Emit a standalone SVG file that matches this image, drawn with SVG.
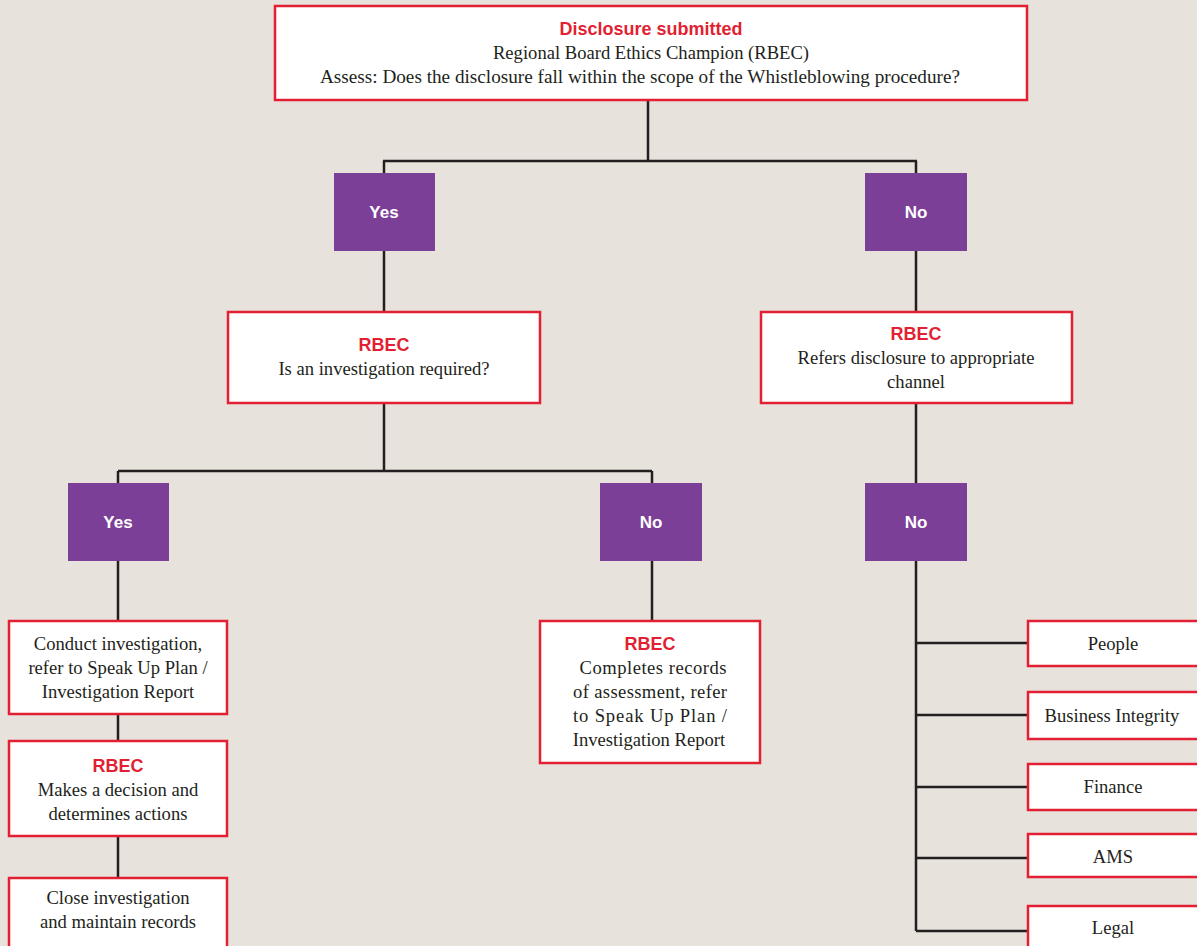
<svg xmlns="http://www.w3.org/2000/svg" width="1197" height="946" viewBox="0 0 1197 946">
<style>
.box{fill:#ffffff;stroke:#e21f33;stroke-width:2.5}
.dec{fill:#7c3f98}
.t{font-family:"Liberation Serif",serif;font-size:18.6px;fill:#231f20;text-anchor:middle}
.h{font-family:"Liberation Sans",sans-serif;font-size:18px;font-weight:bold;fill:#e21f33;text-anchor:middle}
.d{font-family:"Liberation Sans",sans-serif;font-size:17px;font-weight:bold;fill:#ffffff;text-anchor:middle}
.c{fill:none;stroke:#231f20;stroke-width:2.5}
</style>
<rect x="0" y="0" width="1197" height="946" fill="#e8e2dc"/>
<g id="connectors">
<path class="c" d="M648,100V161M383,161H917M384,161V173M916,161V173"/>
<path class="c" d="M384,251V311M916,251V311"/>
<path class="c" d="M384,403V471M118,471H652M118,471V483M652,471V483"/>
<path class="c" d="M916,403V483"/>
<path class="c" d="M118,561V620M118,714V740M118,836V877"/>
<path class="c" d="M652,561V620"/>
<path class="c" d="M916,561V931M916,643H1028M916,715H1028M916,787H1028M916,858H1028M916,931H1028"/>
</g>
<g id="n-top">
<rect class="box" x="275" y="6" width="752" height="94"/>
<text class="h" x="651" y="35">Disclosure submitted</text>
<text class="t" x="651" y="59">Regional Board Ethics Champion (RBEC)</text>
<text class="t" x="640" y="83" textLength="640" lengthAdjust="spacingAndGlyphs">Assess: Does the disclosure fall within the scope of the Whistleblowing procedure?</text>
</g>
<g id="n-yes1"><rect class="dec" x="334" y="173" width="101" height="78"/><text class="d" x="384" y="218">Yes</text></g>
<g id="n-no1"><rect class="dec" x="865" y="173" width="102" height="78"/><text class="d" x="916" y="218">No</text></g>
<g id="n-rbec-l">
<rect class="box" x="228" y="312" width="312" height="91"/>
<text class="h" x="384" y="351">RBEC</text>
<text class="t" x="384" y="375">Is an investigation required?</text>
</g>
<g id="n-rbec-r">
<rect class="box" x="761" y="312" width="311" height="91"/>
<text class="h" x="916" y="340">RBEC</text>
<text class="t" x="916" y="364">Refers disclosure to appropriate</text>
<text class="t" x="916" y="388">channel</text>
</g>
<g id="n-yes2"><rect class="dec" x="68" y="483" width="101" height="78"/><text class="d" x="118" y="528">Yes</text></g>
<g id="n-no2"><rect class="dec" x="600" y="483" width="102" height="78"/><text class="d" x="651" y="528">No</text></g>
<g id="n-no3"><rect class="dec" x="865" y="483" width="102" height="78"/><text class="d" x="916" y="528">No</text></g>
<g id="n-conduct">
<rect class="box" x="9" y="621" width="218" height="93"/>
<text class="t" x="118" y="650">Conduct investigation,</text>
<text class="t" x="118" y="674">refer to Speak Up Plan /</text>
<text class="t" x="118" y="698">Investigation Report</text>
</g>
<g id="n-decision">
<rect class="box" x="9" y="741" width="218" height="95"/>
<text class="h" x="118" y="772">RBEC</text>
<text class="t" x="118" y="796">Makes a decision and</text>
<text class="t" x="118" y="820">determines actions</text>
</g>
<g id="n-close">
<rect class="box" x="9" y="878" width="218" height="80"/>
<text class="t" x="118" y="904">Close investigation</text>
<text class="t" x="118" y="928">and maintain records</text>
</g>
<g id="n-records">
<rect class="box" x="540" y="621" width="220" height="142"/>
<text class="h" x="650" y="650">RBEC</text>
<text class="t" x="653" y="674" textLength="147" lengthAdjust="spacing">Completes records</text>
<text class="t" x="650" y="698" textLength="154" lengthAdjust="spacing">of assessment, refer</text>
<text class="t" x="650" y="722" textLength="154" lengthAdjust="spacing">to Speak Up Plan /</text>
<text class="t" x="649" y="746">Investigation Report</text>
</g>
<g id="n-people"><rect class="box" x="1028" y="621" width="180" height="45"/><text class="t" x="1113" y="650">People</text></g>
<g id="n-bi"><rect class="box" x="1028" y="692" width="180" height="47"/><text class="t" x="1112" y="722">Business Integrity</text></g>
<g id="n-finance"><rect class="box" x="1028" y="764" width="180" height="46"/><text class="t" x="1113" y="793">Finance</text></g>
<g id="n-ams"><rect class="box" x="1028" y="834" width="180" height="43"/><text class="t" x="1113" y="863">AMS</text></g>
<g id="n-legal"><rect class="box" x="1028" y="906" width="180" height="60"/><text class="t" x="1113" y="934">Legal</text></g>
</svg>
